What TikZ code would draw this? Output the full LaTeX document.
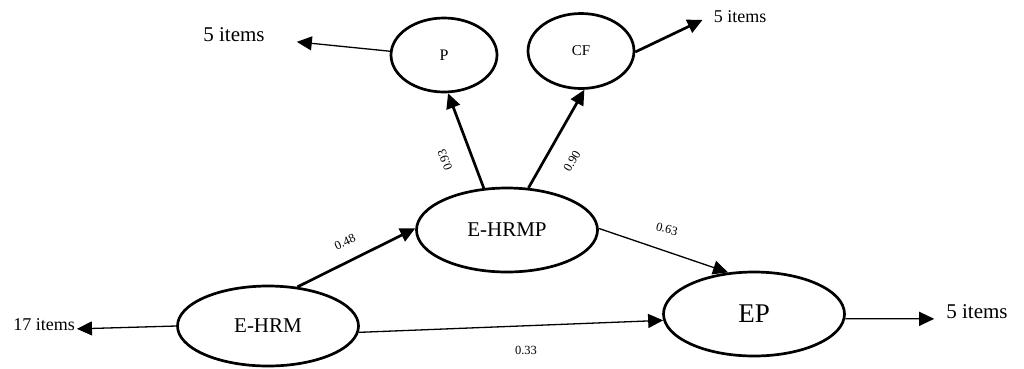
\documentclass[tikz,border=0pt]{standalone}
\usepackage{fontspec}
\setmainfont{Liberation Serif}
\usetikzlibrary{shapes.geometric,arrows.meta}

\begin{document}
\begin{tikzpicture} [
    x=1pt, y=-1pt,
    lv/.style={ellipse, draw, line width=2.7pt, inner sep=0pt},
    itm/.style={inner sep=0pt, font=\fontsize{21}{24}\selectfont},
    coef/.style={inner sep=0pt, font=\fontsize{12.5}{14}\selectfont},
    thk/.style={draw, line width=2.7pt, -{Triangle[length=15pt,width=14pt]}},
    thn/.style={draw, line width=1.3pt, -{Triangle[length=15pt,width=14pt]}}
  ]
  \useasboundingbox (0,0) rectangle (1024,368);

  % latent variables
  \node[lv, minimum width=106pt, minimum height=74pt, font=\fontsize{16}{18}\selectfont] (p) at (444,55) {P};
  \node[lv, minimum width=106pt, minimum height=75pt, font=\fontsize{15}{18}\selectfont] (cf) at (581,51) {CF};
  \node[lv, minimum width=181pt, minimum height=84pt, font=\fontsize{21}{24}\selectfont] (ehrmp) at (507,230) {E-HRMP};
  \node[lv, minimum width=181pt, minimum height=80pt, font=\fontsize{21}{24}\selectfont] (ehrm) at (268,326) {E-HRM};
  \node[lv, minimum width=181pt, minimum height=84pt, font=\fontsize{27}{30}\selectfont] (ep) at (754,314) {EP};

  % indicators
  \node[itm] (pitems) at (234,35) {5 items};
  \node[itm, font=\fontsize{18}{21}\selectfont] (cfitems) at (740,17) {5 items};
  \node[itm] (epitems) at (977,312) {5 items};
  \node[itm, font=\fontsize{18}{21}\selectfont] (hrmitems) at (44,325) {17 items};

  % paths
  \path[thk] (ehrmp.119) -- (p.276);
  \path[thk] (ehrmp.63) -- (cf.275);
  \path[thk] (ehrm.53) -- (ehrmp.179);
  \path[thk] (cf.359) -- ([xshift=-11pt,yshift=3pt]cfitems.base west);
  \path[thn] (ehrmp.1) -- (ep.122);
  \path[thn] (ehrm.356) -- (ep.184);
  \path[thn] (ep.357) -- ([xshift=-12pt]epitems.base west);
  \path[thn] (p.176) -- ([xshift=32pt]pitems.base east);
  \path[thn] (ehrm.180) -- ([xshift=2pt,yshift=2pt]hrmitems.base east);

  % coefficients
  \node[coef, rotate=110] (c93) at (445,160) {0.93};
  \node[coef, rotate=59] (c90) at (572,161) {0.90};
  \node[coef, rotate=25] (c48) at (345,242) {0.48};
  \node[coef, rotate=-15] (c63) at (667,229) {0.63};
  \node[coef] (c33) at (526,350) {0.33};
\end{tikzpicture}
\end{document}
